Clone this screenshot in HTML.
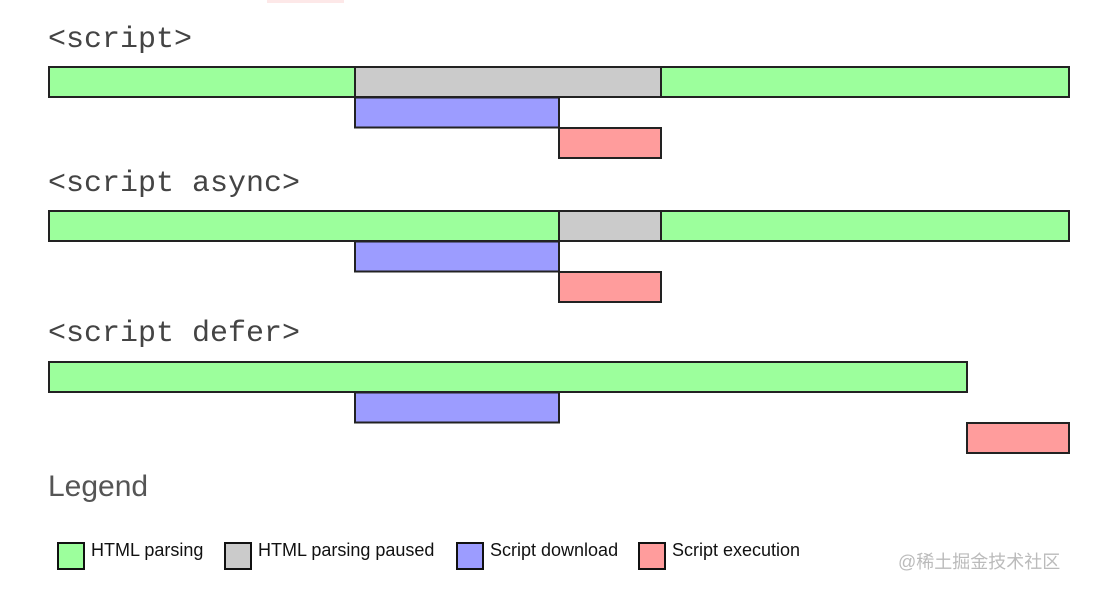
<!DOCTYPE html>
<html><head><meta charset="utf-8"><style>
body{margin:0;background:#fff;width:1100px;height:585px;overflow:hidden}
svg text{font-family:"Liberation Sans",sans-serif}
</style></head><body>
<svg id="chart" width="1100" height="585" xmlns="http://www.w3.org/2000/svg">
<rect x="267" y="0" width="77" height="3" fill="#fde8e8"/>
<text x="48" y="496" font-size="30" fill="#555" style="font-weight:300" font-family="Liberation Sans">Legend</text>
<text x="898" y="568" font-size="18" fill="#bbb" font-family="Liberation Sans, Noto Sans CJK SC, sans-serif">@稀土掘金技术社区</text>
</svg>
<script>
const rows = ["<script>", "<script async>", "<script defer>"];
const segRow = [0,0,0,0,0, 1,1,1,1,1, 2,2,2];
const segLane = [0,0,0,1,2, 0,0,0,1,2, 0,1,2];
const segStart = [0,3,6,3,5, 0,5,6,3,5, 0,3,9];
const segEnd = [3,6,10,5,6, 5,6,10,5,6, 9,5,10];
const segType = [0,1,0,2,3, 0,1,0,2,3, 0,2,3];
const typeNames = ["HTML parsing","HTML parsing paused","Script download","Script execution"];
const typeColors = ["#9cff9c","#cbcbcb","#9c9cff","#ff9c9c"];

const svg = document.getElementById('chart');
const NS = "http://www.w3.org/2000/svg";
const xs = t => 49 + t * 102;
const rowTop = [67, 211, 362];
const titleY = [47, 191, 341];
const laneY = (r, l) => rowTop[r] + l * 30.5;

rows.forEach((r, i) => {
  const t = document.createElementNS(NS, 'text');
  
  
  t.setAttribute('x', 48); t.setAttribute('y', titleY[i]);
  t.setAttribute('font-size', 30); t.setAttribute('fill', '#444');
  t.setAttribute('style', 'font-family:"Liberation Mono",monospace');
  t.textContent = r;
  svg.appendChild(t);
});

segRow.forEach((r, i) => {
  const b = document.createElementNS(NS, 'rect');
  
  
  b.setAttribute('x', xs(segStart[i])); b.setAttribute('y', laneY(r, segLane[i]));
  b.setAttribute('width', xs(segEnd[i]) - xs(segStart[i]));
  b.setAttribute('height', 30);
  b.setAttribute('fill', typeColors[segType[i]]);
  b.setAttribute('stroke', '#222'); b.setAttribute('stroke-width', 2);
  svg.appendChild(b);
});

const legX = [58, 225, 457, 639];
typeNames.forEach((n, i) => {
  const b = document.createElementNS(NS, 'rect');
  
  
  b.setAttribute('x', legX[i]); b.setAttribute('y', 543);
  b.setAttribute('width', 26); b.setAttribute('height', 26);
  b.setAttribute('fill', typeColors[i]); b.setAttribute('stroke', '#111'); b.setAttribute('stroke-width', 2);
  svg.appendChild(b);
  const t = document.createElementNS(NS, 'text');
  
  
  t.setAttribute('x', legX[i] + 33); t.setAttribute('y', 556);
  t.setAttribute('font-size', 18); t.setAttribute('fill', '#111');
  t.textContent = n;
  svg.appendChild(t);
});
</script>
</body></html>
